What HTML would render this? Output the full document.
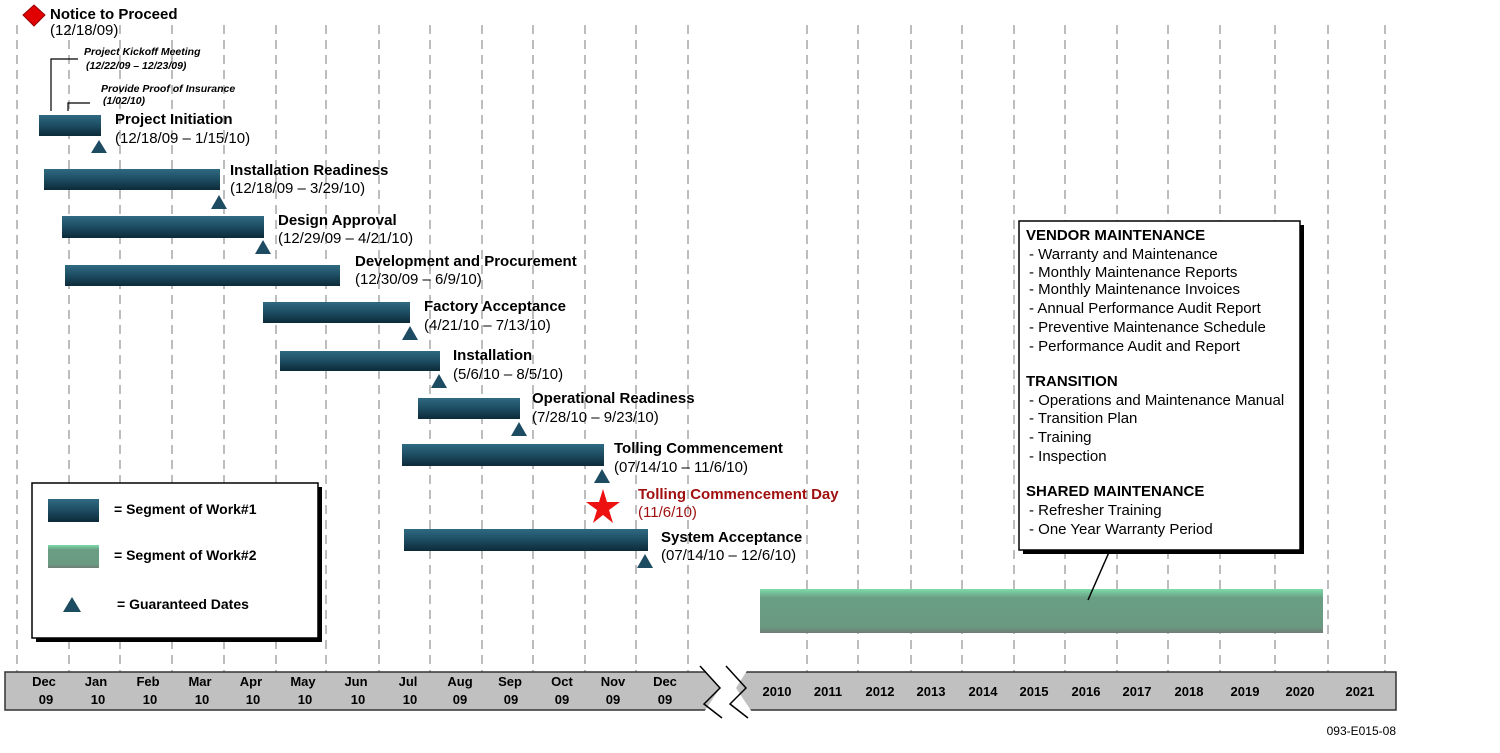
<!DOCTYPE html>
<html><head><meta charset="utf-8"><style>
html,body{margin:0;padding:0;background:#fff;width:1500px;height:753px;overflow:hidden}
svg{display:block}
text{font-family:"Liberation Sans",Arial,sans-serif}
.b{font-weight:bold;font-size:15px;fill:#000}
.d{font-size:15px;fill:#000}
.ax{font-weight:bold;font-size:13px;fill:#000;text-anchor:middle}
.bx{font-size:15px;fill:#000}
.it{font-size:10.5px;font-weight:bold;font-style:italic}
</style></head><body>
<svg width="1500" height="753" viewBox="0 0 1500 753" xmlns="http://www.w3.org/2000/svg">
<defs>
<linearGradient id="bar" x1="0" y1="0" x2="0" y2="1">
<stop offset="0" stop-color="#2f6a82"/><stop offset="0.5" stop-color="#1d4c62"/><stop offset="1" stop-color="#0c2a38"/>
</linearGradient>
<linearGradient id="grn" x1="0" y1="0" x2="0" y2="1">
<stop offset="0" stop-color="#7fdcaa"/><stop offset="0.2" stop-color="#6a9e84"/><stop offset="0.85" stop-color="#6a9a82"/><stop offset="1" stop-color="#6f7d74"/>
</linearGradient>
</defs>
<g stroke="#bdbdbd" stroke-width="2" stroke-dasharray="9,6">
<line x1="17" y1="25" x2="17" y2="672"/><line x1="69" y1="25" x2="69" y2="672"/><line x1="120" y1="25" x2="120" y2="672"/><line x1="172" y1="25" x2="172" y2="672"/><line x1="224" y1="25" x2="224" y2="672"/><line x1="276" y1="25" x2="276" y2="672"/><line x1="326" y1="25" x2="326" y2="672"/><line x1="379" y1="25" x2="379" y2="672"/><line x1="430" y1="25" x2="430" y2="672"/><line x1="482" y1="25" x2="482" y2="672"/><line x1="533" y1="25" x2="533" y2="672"/><line x1="585" y1="25" x2="585" y2="672"/><line x1="636" y1="25" x2="636" y2="672"/><line x1="688" y1="25" x2="688" y2="672"/>
<line x1="807" y1="25" x2="807" y2="672"/><line x1="858" y1="25" x2="858" y2="672"/><line x1="911" y1="25" x2="911" y2="672"/><line x1="962" y1="25" x2="962" y2="672"/><line x1="1014" y1="25" x2="1014" y2="672"/><line x1="1065" y1="25" x2="1065" y2="672"/><line x1="1117" y1="25" x2="1117" y2="672"/><line x1="1168" y1="25" x2="1168" y2="672"/><line x1="1220" y1="25" x2="1220" y2="672"/><line x1="1275" y1="25" x2="1275" y2="672"/><line x1="1328" y1="25" x2="1328" y2="672"/><line x1="1385" y1="25" x2="1385" y2="672"/>
</g>
<polygon points="34,5 45,15 34,26 23,15" fill="#e00000" stroke="#900" stroke-width="1"/>
<text x="50" y="19" class="b">Notice to Proceed</text>
<text x="50" y="35" class="d">(12/18/09)</text>
<g fill="none" stroke="#000" stroke-width="1.2">
<polyline points="51,111 51,59 78,59"/><polyline points="68,111 68,103 90,103"/>
</g>
<text x="84" y="55" class="it">Project Kickoff Meeting</text>
<text x="86" y="69" class="it">(12/22/09 – 12/23/09)</text>
<text x="101" y="92" class="it">Provide Proof of Insurance</text>
<text x="103" y="104" class="it">(1/02/10)</text>
<g fill="url(#bar)">
<rect x="39" y="115" width="62" height="21"/>
<rect x="44" y="169" width="176" height="21"/>
<rect x="62" y="216" width="202" height="22"/>
<rect x="65" y="265" width="275" height="21"/>
<rect x="263" y="302" width="147" height="21"/>
<rect x="280" y="351" width="160" height="20"/>
<rect x="418" y="398" width="102" height="21"/>
<rect x="402" y="444" width="202" height="22"/>
<rect x="404" y="529" width="244" height="22"/>
</g>
<g fill="#1d4c62">
<polygon points="99,140 91,153 107,153"/>
<polygon points="219,195 211,209 227,209"/>
<polygon points="263,240 255,254 271,254"/>
<polygon points="410,326 402,340 418,340"/>
<polygon points="439,374 431,388 447,388"/>
<polygon points="519,422 511,436 527,436"/>
<polygon points="602,469 594,483 610,483"/>
<polygon points="645,554 637,568 653,568"/>
</g>
<text x="115" y="124" class="b">Project Initiation</text><text x="115" y="143" class="d">(12/18/09 – 1/15/10)</text>
<text x="230" y="175" class="b">Installation Readiness</text><text x="230" y="193" class="d">(12/18/09 – 3/29/10)</text>
<text x="278" y="225" class="b">Design Approval</text><text x="278" y="243" class="d">(12/29/09 – 4/21/10)</text>
<text x="355" y="266" class="b">Development and Procurement</text><text x="355" y="284" class="d">(12/30/09 – 6/9/10)</text>
<text x="424" y="311" class="b">Factory Acceptance</text><text x="424" y="330" class="d">(4/21/10 – 7/13/10)</text>
<text x="453" y="360" class="b">Installation</text><text x="453" y="379" class="d">(5/6/10 – 8/5/10)</text>
<text x="532" y="403" class="b">Operational Readiness</text><text x="532" y="422" class="d">(7/28/10 – 9/23/10)</text>
<text x="614" y="453" class="b">Tolling Commencement</text><text x="614" y="472" class="d">(07/14/10 – 11/6/10)</text>
<polygon points="603,489 607,502 620,502 609,510 613,523 603,515 593,523 597,510 586,502 599,502" fill="#ee1111"/>
<text x="638" y="499" class="b" style="fill:#a01010">Tolling Commencement Day</text>
<text x="638" y="517" class="d" style="fill:#a01010">(11/6/10)</text>
<text x="661" y="542" class="b">System Acceptance</text><text x="661" y="560" class="d">(07/14/10 – 12/6/10)</text>
<rect x="36" y="487" width="286" height="155" fill="#000"/>
<rect x="32" y="483" width="286" height="155" fill="#fff" stroke="#000" stroke-width="1.5"/>
<rect x="48" y="499" width="51" height="23" fill="url(#bar)"/>
<rect x="48" y="545" width="51" height="23" fill="url(#grn)"/>
<polygon points="72,597 63,612 81,612" fill="#1d4c62"/>
<text x="114" y="514" style="font-weight:bold;font-size:14px">= Segment of Work#1</text>
<text x="114" y="560" style="font-weight:bold;font-size:14px">= Segment of Work#2</text>
<text x="117" y="609" style="font-weight:bold;font-size:14px">= Guaranteed Dates</text>
<rect x="760" y="589" width="563" height="44" fill="url(#grn)"/>
<line x1="1110" y1="550" x2="1088" y2="600" stroke="#000" stroke-width="1.5"/>
<rect x="1023" y="225" width="281" height="329" fill="#000"/>
<rect x="1019" y="221" width="281" height="329" fill="#fff" stroke="#000" stroke-width="1.5"/>
<text x="1026" y="240" class="b">VENDOR MAINTENANCE</text>
<text x="1029" y="259" class="bx">- Warranty and Maintenance</text>
<text x="1029" y="277" class="bx">- Monthly Maintenance Reports</text>
<text x="1029" y="294" class="bx">- Monthly Maintenance Invoices</text>
<text x="1029" y="313" class="bx">- Annual Performance Audit Report</text>
<text x="1029" y="332" class="bx">- Preventive Maintenance Schedule</text>
<text x="1029" y="351" class="bx">- Performance Audit and Report</text>
<text x="1026" y="386" class="b">TRANSITION</text>
<text x="1029" y="405" class="bx">- Operations and Maintenance Manual</text>
<text x="1029" y="423" class="bx">- Transition Plan</text>
<text x="1029" y="442" class="bx">- Training</text>
<text x="1029" y="461" class="bx">- Inspection</text>
<text x="1026" y="496" class="b">SHARED MAINTENANCE</text>
<text x="1029" y="515" class="bx">- Refresher Training</text>
<text x="1029" y="534" class="bx">- One Year Warranty Period</text>
<rect x="5" y="672" width="1391" height="38" fill="#c0c0c0" stroke="#333" stroke-width="1.5"/>
<polygon points="700,666 720,688 704,712 752,712 736,688 750,666" fill="#fff"/>
<g fill="none" stroke="#000" stroke-width="1.5">
<polyline points="700,666 720,688 704,704 722,718"/><polyline points="726,666 746,688 730,704 748,718"/>
</g>
<g>
<text x="44" y="686" class="ax">Dec</text><text x="46" y="704" class="ax">09</text>
<text x="96" y="686" class="ax">Jan</text><text x="98" y="704" class="ax">10</text>
<text x="148" y="686" class="ax">Feb</text><text x="150" y="704" class="ax">10</text>
<text x="200" y="686" class="ax">Mar</text><text x="202" y="704" class="ax">10</text>
<text x="251" y="686" class="ax">Apr</text><text x="253" y="704" class="ax">10</text>
<text x="303" y="686" class="ax">May</text><text x="305" y="704" class="ax">10</text>
<text x="356" y="686" class="ax">Jun</text><text x="358" y="704" class="ax">10</text>
<text x="408" y="686" class="ax">Jul</text><text x="410" y="704" class="ax">10</text>
<text x="460" y="686" class="ax">Aug</text><text x="460" y="704" class="ax">09</text>
<text x="510" y="686" class="ax">Sep</text><text x="511" y="704" class="ax">09</text>
<text x="562" y="686" class="ax">Oct</text><text x="562" y="704" class="ax">09</text>
<text x="613" y="686" class="ax">Nov</text><text x="613" y="704" class="ax">09</text>
<text x="665" y="686" class="ax">Dec</text><text x="665" y="704" class="ax">09</text>
<text x="777" y="696" class="ax">2010</text><text x="828" y="696" class="ax">2011</text><text x="880" y="696" class="ax">2012</text><text x="931" y="696" class="ax">2013</text><text x="983" y="696" class="ax">2014</text><text x="1034" y="696" class="ax">2015</text><text x="1086" y="696" class="ax">2016</text><text x="1137" y="696" class="ax">2017</text><text x="1189" y="696" class="ax">2018</text><text x="1245" y="696" class="ax">2019</text><text x="1300" y="696" class="ax">2020</text><text x="1360" y="696" class="ax">2021</text>
</g>
<text x="1396" y="735" font-size="12" text-anchor="end">093-E015-08</text>
</svg>
</body></html>
